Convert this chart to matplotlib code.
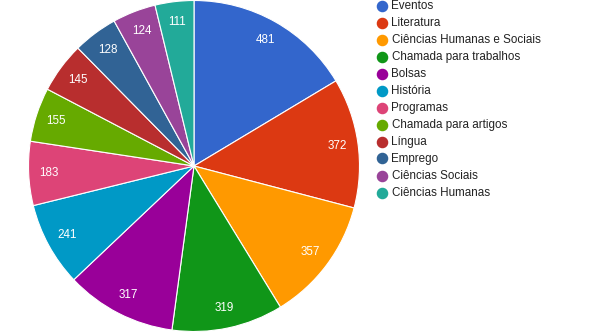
import matplotlib.pyplot as plt
from matplotlib.lines import Line2D

plt.rcParams['font.family'] = ['Liberation Sans', 'DejaVu Sans']

labels = ['Eventos', 'Literatura', 'Ciências Humanas e Sociais', 'Chamada para trabalhos',
          'Bolsas', 'História', 'Programas', 'Chamada para artigos', 'Língua',
          'Emprego', 'Ciências Sociais', 'Ciências Humanas']
values = [481, 372, 357, 319, 317, 241, 183, 155, 145, 128, 124, 111]
colors = ['#3366cc', '#dc3912', '#ff9900', '#109618', '#990099', '#0099c6',
          '#dd4477', '#66aa00', '#b82e2e', '#316395', '#994499', '#22aa99']

W, H = 590, 332
fig = plt.figure(figsize=(W / 100, H / 100), dpi=100)

# pie area: centre (194, 166), radius ~165.5 px
cx, cy, r = 194, 166, 165.5
ax = fig.add_axes([(cx - r) / W, (H - cy - r) / H, 2 * r / W, 2 * r / H])
wedges, texts = ax.pie(values, colors=colors, startangle=90, counterclock=False,
                       labels=[str(v) for v in values], labeldistance=0.875,
                       wedgeprops=dict(edgecolor='white', linewidth=0.8),
                       textprops=dict(color='white', fontsize=8.4, ha='center', va='center'),
                       radius=1)
ax.set_xlim(-1, 1)
ax.set_ylim(-1, 1)
ax.set_aspect('equal')
ax.axis('off')

# legend drawn as a column of dots and names
y0, step = 5.5, 17
for i, (lab, col) in enumerate(zip(labels, colors)):
    y = 1 - (y0 + i * step) / H
    fig.add_artist(Line2D([381.7 / W], [y], marker='o', markersize=7.3,
                          color=col, linestyle='none', transform=fig.transFigure))
    fig.text(391.5 / W, y - 0.8 / H, lab, fontsize=8.4, color='#222222',
             va='center', ha='left')

fig.savefig('out.png', dpi=100, facecolor='white')
